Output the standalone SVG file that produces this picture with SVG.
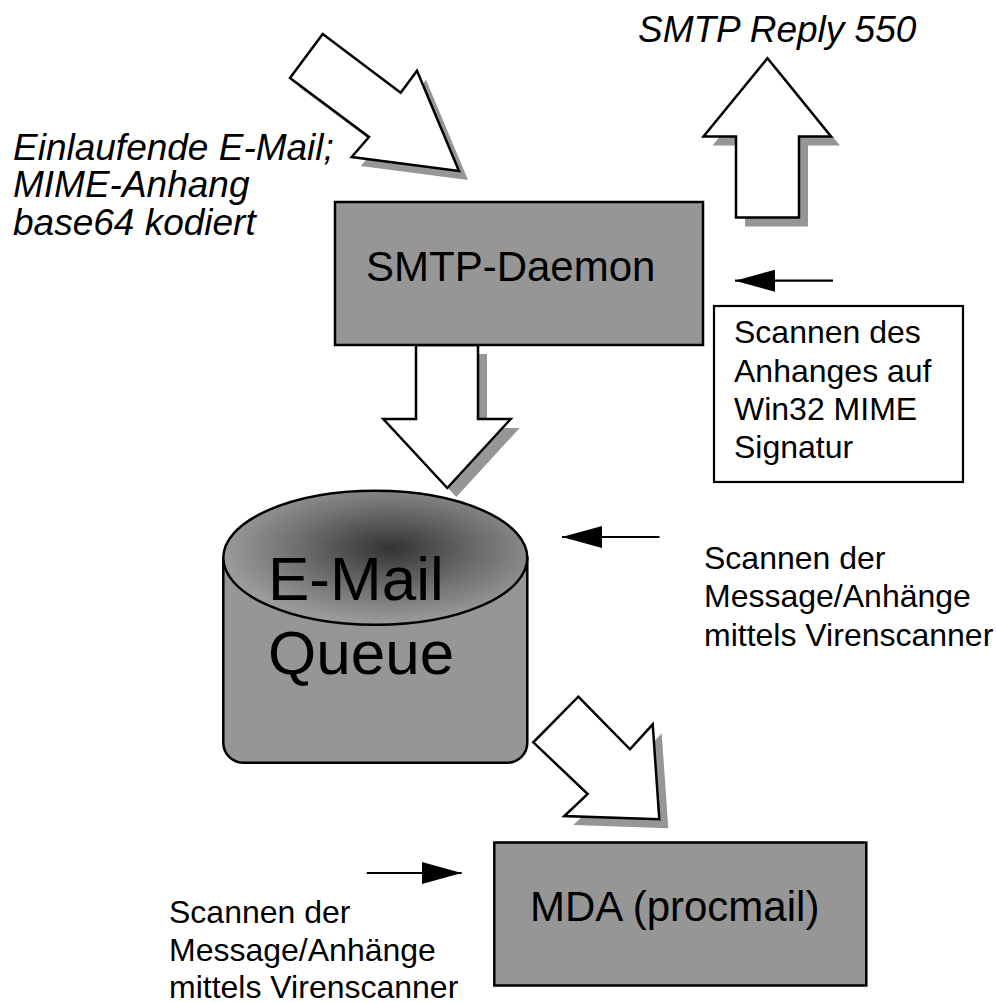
<svg xmlns="http://www.w3.org/2000/svg" width="996" height="1003" viewBox="0 0 996 1003">
  <style>
    .lbl { font-family: "Liberation Sans", Arial, sans-serif; fill: #000; }
    .it { font-style: italic; font-size: 37px; }
    .note { font-size: 32px; }
    .box { fill: #969696; stroke: #000; stroke-width: 2.5; }
    .block { fill: #fff; stroke: #000; stroke-width: 2.5; stroke-linejoin: miter; }
    .shade { fill: #969696; }
    .thin { stroke: #000; stroke-width: 2.2; fill: none; }
  </style>
  <defs>
    <radialGradient id="topGlow" cx="0.55" cy="0.43" r="0.55">
      <stop offset="0" stop-color="#333"/>
      <stop offset="0.55" stop-color="#6e6e6e"/>
      <stop offset="1" stop-color="#9a9a9a"/>
    </radialGradient>
    <marker id="head" viewBox="0 0 40 22" refX="40" refY="11" markerWidth="40" markerHeight="22" markerUnits="userSpaceOnUse" orient="auto">
      <path d="M0,0 L40,11 L0,22 Z" fill="#000"/>
    </marker>
  </defs>

  <!-- labels outside nodes -->
  <g id="label-incoming" class="lbl it">
    <text x="13" y="160">Einlaufende E-Mail;</text>
    <text x="13" y="197">MIME-Anhang</text>
    <text x="13" y="235">base64 kodiert</text>
  </g>
  <g id="label-reply" class="lbl it">
    <text x="638" y="42">SMTP Reply 550</text>
  </g>

  <!-- block arrows and pointer arrows -->
  <g id="connectors">
    <!-- incoming mail into SMTP daemon -->
    <g transform="translate(9,9)">
      <polygon class="shade" points="322.7,34 400.7,92.7 417,70.7 459,171 351.7,157 369,137 290,78"/>
    </g>
    <polygon class="block" points="322.7,34 400.7,92.7 417,70.7 459,171 351.7,157 369,137 290,78"/>

    <!-- reply back out -->
    <g transform="translate(9,9)">
      <polygon class="shade" points="767.5,58.3 831,136.5 799,136.5 799,217.5 736,217.5 736,136.5 703.5,136.5"/>
    </g>
    <polygon class="block" points="767.5,58.3 831,136.5 799,136.5 799,217.5 736,217.5 736,136.5 703.5,136.5"/>

    <!-- daemon to queue -->
    <g transform="translate(9,9)">
      <polygon class="shade" points="416,345 478,345 478,419 510.7,419 447.3,488 383.3,419 416,419"/>
    </g>
    <polygon class="block" points="416,345 478,345 478,419 510.7,419 447.3,488 383.3,419 416,419"/>

    <!-- queue to MDA -->
    <g transform="translate(9,9)">
      <polygon class="shade" points="578.3,696.7 630,749.3 652.7,724.3 659.3,819.3 564.3,816 587.7,794 533.3,742.3"/>
    </g>
    <polygon class="block" points="578.3,696.7 630,749.3 652.7,724.3 659.3,819.3 564.3,816 587.7,794 533.3,742.3"/>

    <!-- scanning pointers -->
    <line class="thin" x1="833" y1="280.7" x2="735" y2="280.7" marker-end="url(#head)"/>
    <line class="thin" x1="659.5" y1="537" x2="562" y2="537" marker-end="url(#head)"/>
    <line class="thin" x1="366.8" y1="873" x2="461.7" y2="873" marker-end="url(#head)"/>
  </g>

  <g id="smtp-daemon">
    <rect class="box" x="335" y="202" width="368" height="143"/>
    <text class="lbl" x="366" y="281" font-size="42">SMTP-Daemon</text>
  </g>

  <g id="scan-signature">
    <rect x="714" y="306" width="249" height="176" fill="#fff" stroke="#000" stroke-width="2.2"/>
    <g class="lbl note">
      <text x="734" y="343.3">Scannen des</text>
      <text x="734" y="381.6">Anhanges auf</text>
      <text x="734" y="419.9">Win32 MIME</text>
      <text x="734" y="458.2">Signatur</text>
    </g>
  </g>

  <g id="mail-queue">
    <path class="box" d="M223.3,557.8 L223.3,742.7 A20,20 0 0 0 243.3,762.7 L507.3,762.7 A20,20 0 0 0 527.3,742.7 L527.3,557.8 Z"/>
    <ellipse cx="375.3" cy="557.8" rx="152" ry="67" fill="url(#topGlow)" stroke="#000" stroke-width="2.5"/>
    <g class="lbl" font-size="62">
      <text x="268" y="600">E-Mail</text>
      <text x="268" y="674">Queue</text>
    </g>
  </g>

  <g id="scan-queue" class="lbl note">
    <text x="704" y="568.7">Scannen der</text>
    <text x="704" y="607.3">Message/Anhänge</text>
    <text x="704" y="645.9">mittels Virenscanner</text>
  </g>

  <g id="mda">
    <rect class="box" x="494.3" y="842.5" width="372" height="143"/>
    <text class="lbl" x="530" y="921" font-size="42">MDA (procmail)</text>
  </g>

  <g id="scan-mda" class="lbl note">
    <text x="169" y="922.8">Scannen der</text>
    <text x="169" y="961">Message/Anhänge</text>
    <text x="169" y="998">mittels Virenscanner</text>
  </g>
</svg>
